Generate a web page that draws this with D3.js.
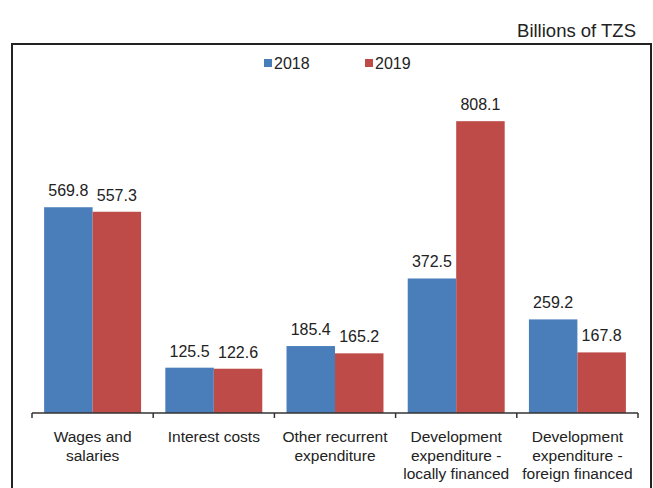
<!DOCTYPE html>
<html>
<head>
<meta charset="utf-8">
<script src="https://cdn.jsdelivr.net/npm/d3@7"></script>
<style>
  html, body { margin: 0; padding: 0; background: #fff; }
  svg { display: block; }
  text { font-family: "Liberation Sans", Arial, sans-serif; fill: #222; }
</style>
</head>
<body>
<svg id="chart" width="653" height="488"></svg>
<script>
// Expenditure categories (multi-line labels) and yearly values, billions of TZS
const categories = [
  ["Wages and", "salaries"],
  ["Interest costs"],
  ["Other recurrent", "expenditure"],
  ["Development", "expenditure -", "locally financed"],
  ["Development", "expenditure -", "foreign financed"]
];
const years = ["2018", "2019"];
const values2018 = [569.8, 125.5, 185.4, 372.5, 259.2];
const values2019 = [557.3, 122.6, 165.2, 808.1, 167.8];
const unitLabel = "Billions of TZS";

const colors = { "2018": "#4a7ebb", "2019": "#be4b48" };
const series = { "2018": values2018, "2019": values2019 };

const svg = d3.select("#chart");

// Frame around the plot
svg.append("rect")
  .attr("x", 12).attr("y", 44)
  .attr("width", 639).attr("height", 470)
  .attr("fill", "none")
  .attr("stroke", "#222")
  .attr("stroke-width", 2);

svg.append("text")
  .attr("x", 636).attr("y", 37)
  .attr("text-anchor", "end")
  .style("font-size", "18.5px")
  .text(unitLabel);

const idx = d3.range(categories.length);
const x0 = d3.scaleBand().domain(idx).range([32, 638]).paddingInner(0.2).paddingOuter(0.1);
const x1 = d3.scaleBand().domain(years).range([0, x0.bandwidth()]);
const y = d3.scaleLinear().domain([0, 900]).range([413, 88]);

// Bars
const groups = svg.append("g").selectAll("g")
  .data(idx).join("g")
  .attr("transform", i => `translate(${x0(i)},0)`);

groups.selectAll("rect")
  .data(i => years.map(yr => ({ yr, v: series[yr][i] })))
  .join("rect")
  .attr("x", d => x1(d.yr))
  .attr("y", d => y(d.v))
  .attr("width", x1.bandwidth())
  .attr("height", d => y(0) - y(d.v))
  .attr("fill", d => colors[d.yr]);

groups.selectAll("text.val")
  .data(i => years.map(yr => ({ yr, v: series[yr][i] })))
  .join("text")
  .attr("class", "val")
  .attr("x", d => x1(d.yr) + x1.bandwidth() / 2)
  .attr("y", d => y(d.v) - 11)
  .attr("text-anchor", "middle")
  .style("font-size", "16px")
  .text(d => d.v.toFixed(1));

// Category axis with ticks between groups
const axisG = svg.append("g");
axisG.append("line")
  .attr("x1", 32).attr("x2", 638)
  .attr("y1", y(0)).attr("y2", y(0))
  .attr("stroke", "#333").attr("stroke-width", 1.5);

const step = x0.step();
const tickXs = d3.range(categories.length + 1).map(k => x0.range()[0] + k * step);
axisG.selectAll("line.tick")
  .data(tickXs).join("line")
  .attr("class", "tick")
  .attr("x1", d => d).attr("x2", d => d)
  .attr("y1", y(0)).attr("y2", y(0) + 5)
  .attr("stroke", "#333").attr("stroke-width", 1.5);

const catLabels = axisG.selectAll("text.cat")
  .data(idx).join("text")
  .attr("class", "cat")
  .attr("text-anchor", "middle")
  .style("font-size", "15.5px")
  .attr("transform", i => `translate(${x0(i) + x0.bandwidth() / 2},${y(0) + 29})`);

catLabels.selectAll("tspan")
  .data(i => categories[i])
  .join("tspan")
  .attr("x", 0)
  .attr("y", (d, k) => k * 18.5)
  .text(d => d);

// Legend
const legend = svg.append("g");
const legendX = { "2018": 264, "2019": 365 };
years.forEach(yr => {
  legend.append("rect")
    .attr("x", legendX[yr]).attr("y", 59)
    .attr("width", 8).attr("height", 8)
    .attr("fill", colors[yr]);
  legend.append("text")
    .attr("x", legendX[yr] + 10).attr("y", 69)
    .style("font-size", "16px")
    .text(yr);
});
</script>
</body>
</html>
